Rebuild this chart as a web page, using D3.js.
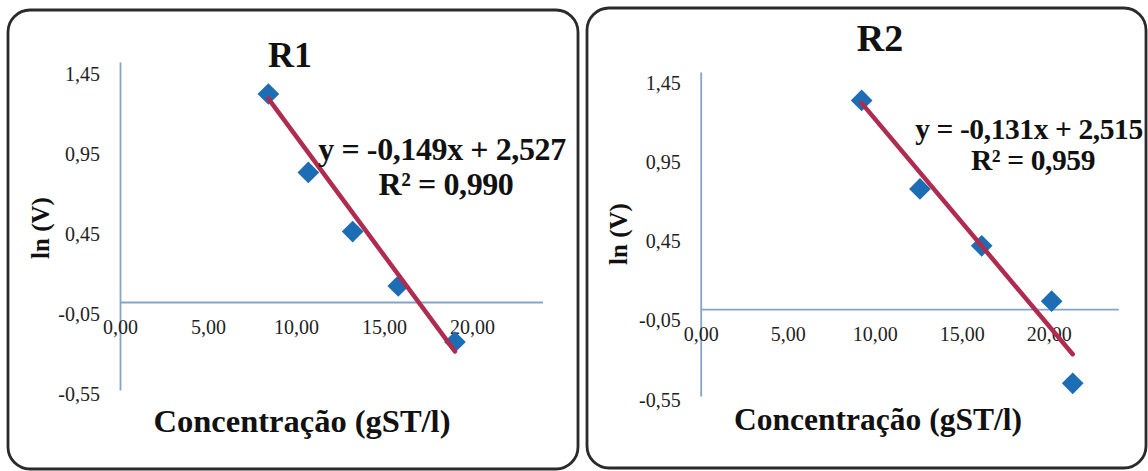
<!DOCTYPE html>
<html lang="pt">
<head>
<meta charset="UTF-8"/>
<title>ln(V) vs Concentração - R1 e R2</title>
<script src="https://d3js.org/d3.v7.min.js"></script>
<style>
    body, html {
        margin: 0;
        padding: 0;
        background: #fff;
        overflow: hidden;
    }
    svg {
        display: block;
    }
</style>
</head>
<body>
<svg id="chart" width="1148" height="471"></svg>
<script>
    // data
    const titles = ["R1", "R2"];
    const xTicks = [0, 5, 10, 15, 20];
    const yTicks = [1.45, 0.95, 0.45, -0.05, -0.55];
    const r1Conc = [8.43, 10.70, 13.22, 15.81, 19.03];
    const r1LnV = [1.30, 0.81, 0.44, 0.10, -0.25];
    const r2Conc = [9.25, 12.60, 16.15, 20.17, 21.38];
    const r2LnV = [1.32, 0.76, 0.40, 0.05, -0.47];
    const trendSlope = [-0.149, -0.131];
    const trendIntercept = [2.527, 2.515];
    const rSquared = [0.990, 0.959];
    const xTitle = "Concentração (gST/l)";
    const yTitle = "ln (V)";

    const FONT = "Liberation Serif";
    const locale = d3.formatLocale({decimal: ",", thousands: ".", grouping: [3], currency: ["", ""], minus: "-"});
    const fmt2 = locale.format(".2f");
    const fmt3 = locale.format(".3f");

    // layout of the two boxes
    const panels = [
        {box: [8, 10, 570, 459], xr: [120, 542.4], yr: [390, 62],
         titleX: 290, titleY: 67, titleSize: 36,
         eqX: 442, eqY: 160, rY: 195, eqSize: 32,
         xtX: 302, xtY: 432, xtSize: 32.5, ytX: 40, ytY: 228,
         conc: r1Conc, lnv: r1LnV},
        {box: [587, 8, 559, 460], xr: [700.7, 1118.3], yr: [396, 72],
         titleX: 880, titleY: 51, titleSize: 38,
         eqX: 1029, eqY: 139, rY: 170, eqSize: 29.5,
         xtX: 878, xtY: 430, xtSize: 31.5, ytX: 618, ytY: 234,
         conc: r2Conc, lnv: r2LnV}
    ];

    const svg = d3.select("#chart");

    panels.forEach((p, i) => {
        const g = svg.append("g").attr("font-family", FONT);

        g.append("rect")
            .attr("x", p.box[0]).attr("y", p.box[1])
            .attr("width", p.box[2]).attr("height", p.box[3])
            .attr("rx", 22).attr("ry", 22)
            .attr("fill", "#fff")
            .attr("stroke", "#2a2a2a")
            .attr("stroke-width", 2.8);

        const x = d3.scaleLinear().domain([0, 24]).range(p.xr);
        const y = d3.scaleLinear().domain([-0.55, 1.5]).range(p.yr);

        // y axis at x = 0
        const yAxis = g.append("g")
            .attr("transform", `translate(${x(0)},0)`)
            .call(d3.axisLeft(y).tickValues(yTicks).tickSize(0).tickPadding(20).tickFormat(fmt2));
        yAxis.selectAll("text").attr("dy", "0.5em");

        // x axis at y = 0
        const xAxis = g.append("g")
            .attr("transform", `translate(0,${y(0)})`)
            .call(d3.axisBottom(x).tickValues(xTicks).tickSize(0).tickPadding(18).tickFormat(fmt2));

        [xAxis, yAxis].forEach(a => {
            a.attr("font-family", FONT).attr("font-size", 20);
            a.selectAll("text").attr("fill", "#222");
            a.select(".domain").attr("stroke", "#86a3c8").attr("stroke-width", 1.8);
        });

        // points
        const pts = p.conc.map((c, k) => [c, p.lnv[k]]);
        g.selectAll(".pt")
            .data(pts)
            .enter()
            .append("path")
            .attr("class", "pt")
            .attr("d", d3.symbol().type(d3.symbolDiamond2).size(300))
            .attr("transform", d => `translate(${x(d[0])},${y(d[1])})`)
            .attr("fill", "#1c6db3");

        // linear trendline over the data range
        const x0 = d3.min(p.conc), x1 = d3.max(p.conc);
        const line = d3.line().x(d => x(d)).y(d => y(trendSlope[i] * d + trendIntercept[i]));
        g.append("path")
            .datum([x0, x1])
            .attr("d", line)
            .attr("fill", "none")
            .attr("stroke", "#b02b50")
            .attr("stroke-width", 4.5)
            .attr("stroke-linecap", "round");

        // titles and labels
        g.append("text")
            .attr("x", p.titleX).attr("y", p.titleY)
            .attr("text-anchor", "middle")
            .attr("font-size", p.titleSize).attr("font-weight", "bold")
            .attr("fill", "#111")
            .text(titles[i]);

        g.append("text")
            .attr("x", p.eqX).attr("y", p.eqY)
            .attr("text-anchor", "middle")
            .attr("font-size", p.eqSize).attr("font-weight", "bold")
            .attr("letter-spacing", -0.4)
            .attr("fill", "#111")
            .text(`y = ${fmt3(trendSlope[i])}x + ${fmt3(trendIntercept[i])}`);

        g.append("text")
            .attr("x", p.eqX + 4).attr("y", p.rY)
            .attr("text-anchor", "middle")
            .attr("font-size", p.eqSize).attr("font-weight", "bold")
            .attr("letter-spacing", -0.4)
            .attr("fill", "#111")
            .text(`R² = ${fmt3(rSquared[i])}`);

        g.append("text")
            .attr("x", p.xtX).attr("y", p.xtY)
            .attr("text-anchor", "middle")
            .attr("font-size", p.xtSize).attr("font-weight", "bold")
            .attr("fill", "#111")
            .text(xTitle);

        g.append("text")
            .attr("transform", `translate(${p.ytX},${p.ytY}) rotate(-90)`)
            .attr("text-anchor", "middle")
            .attr("dy", "0.35em")
            .attr("font-size", 25).attr("font-weight", "bold")
            .attr("fill", "#111")
            .text(yTitle);
    });
</script>
</body>
</html>
